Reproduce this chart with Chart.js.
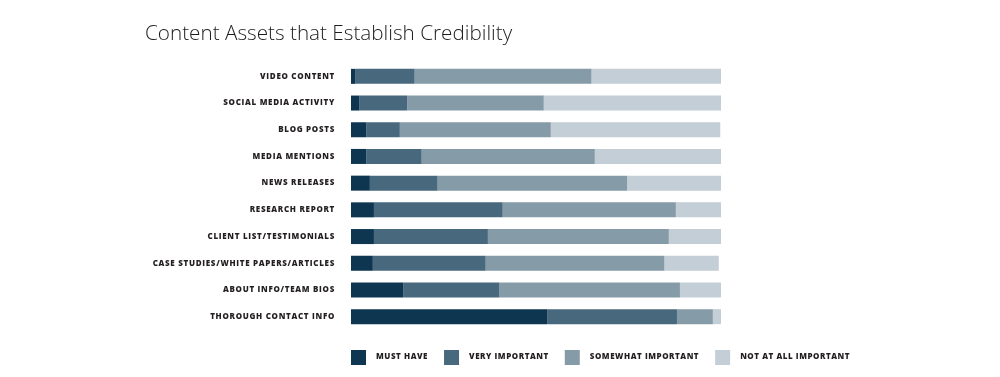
<!DOCTYPE html>
<html>
<head>
<meta charset="utf-8">
<script src="https://cdn.jsdelivr.net/npm/chart.js@4/dist/chart.umd.min.js"></script>
<style>
	body { margin: 0; background: #ffffff; }
	#wrap { position: relative; width: 1000px; height: 377px; }
	#title {
		position: absolute; left: 145px; top: 18px; margin: 0;
		font-family: "Open Sans", sans-serif; font-weight: 300; font-size: 20.7px;
		color: #1d1d1f; white-space: nowrap;
	}
	#chart { position: absolute; left: 0; top: 0; }
</style>
</head>
<body>
<div id="wrap">
	<canvas id="chart" width="1000" height="377"></canvas>
	<h1 id="title">Content Assets that Establish Credibility</h1>
</div>
<script>
// Categories (top to bottom)
const categories = [
	"VIDEO CONTENT",
	"SOCIAL MEDIA ACTIVITY",
	"BLOG POSTS",
	"MEDIA MENTIONS",
	"NEWS RELEASES",
	"RESEARCH REPORT",
	"CLIENT LIST/TESTIMONIALS",
	"CASE STUDIES/WHITE PAPERS/ARTICLES",
	"ABOUT INFO/TEAM BIOS",
	"THOROUGH CONTACT INFO",
];

// Series labels
const seriesNames = ["MUST HAVE", "VERY IMPORTANT", "SOMEWHAT IMPORTANT", "NOT AT ALL IMPORTANT"];

// Percent of respondents
const mustHave = [1.1, 2.2, 4.1, 4.1, 5.1, 6.2, 6.2, 5.9, 14.1, 53.0];
const veryImportant = [16.1, 13.0, 9.1, 15.0, 18.3, 34.8, 30.8, 30.5, 25.9, 35.1];
const somewhatImportant = [47.8, 36.9, 40.8, 46.8, 51.2, 46.8, 48.9, 48.3, 48.9, 9.7];
const notImportant = [35.0, 47.9, 45.8, 34.1, 25.4, 12.2, 14.1, 14.7, 11.1, 2.2];

const seriesColors = ["#0f3651", "#48697d", "#869ba8", "#c3ced6"];
const seriesValues = [mustHave, veryImportant, somewhatImportant, notImportant];

const labelFont = { family: "'Open Sans', sans-serif", size: 8, weight: 800 };

// Spread out the small caps labels a little
const letterSpacing = {
	id: "letterSpacing",
	beforeDraw(chart) {
		chart.ctx.letterSpacing = "0.7px";
	},
};

// Legend drawn under the bars, starting at the chart area's left edge
const bottomLegend = {
	id: "bottomLegend",
	afterDraw(chart) {
		const ctx = chart.ctx;
		let x = chart.chartArea.left;
		const y = 350;
		ctx.save();
		ctx.letterSpacing = "0.55px";
		ctx.font = "800 8px 'Open Sans', sans-serif";
		ctx.textBaseline = "middle";
		chart.data.datasets.forEach((ds) => {
			ctx.fillStyle = ds.backgroundColor;
			ctx.fillRect(x, y, 15, 15);
			x += 15 + 10;
			ctx.fillStyle = "#231f20";
			ctx.fillText(ds.label, x, y + 7);
			x += ctx.measureText(ds.label).width + 16;
		});
		ctx.restore();
	},
};

new Chart(document.getElementById("chart").getContext("2d"), {
	type: "bar",
	data: {
		labels: categories,
		datasets: seriesNames.map((name, i) => ({
			label: name,
			data: seriesValues[i],
			backgroundColor: seriesColors[i],
			borderWidth: 0,
			barPercentage: 0.5625,
			categoryPercentage: 1,
		})),
	},
	options: {
		indexAxis: "y",
		responsive: false,
		animation: false,
		layout: {
			padding: { top: 63, bottom: 47, left: 0, right: 279 },
		},
		scales: {
			x: {
				stacked: true,
				min: 0,
				max: 100,
				display: false,
			},
			y: {
				stacked: true,
				grid: { display: false, drawTicks: false },
				border: { display: false },
				ticks: {
					color: "#231f20",
					font: labelFont,
					padding: 16,
				},
				afterFit: (scale) => {
					scale.width = 351;
				},
			},
		},
		plugins: {
			legend: { display: false },
			tooltip: { enabled: false },
		},
	},
	plugins: [letterSpacing, bottomLegend],
});
</script>
</body>
</html>
